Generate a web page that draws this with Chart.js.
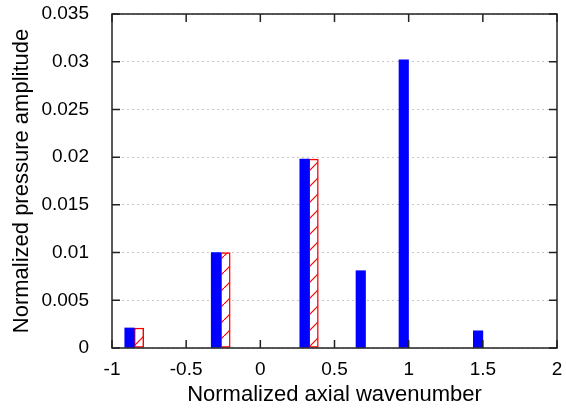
<!DOCTYPE html>
<html>
<head>
<meta charset="utf-8">
<script src="https://cdn.jsdelivr.net/npm/chart.js@4"></script>
<style>
  html, body { margin: 0; padding: 0; background: #fff; }
  #wrap { width: 566px; height: 408px; }
</style>
</head>
<body>
<div id="wrap"><canvas id="chart" width="566" height="408"></canvas></div>
<script>
// wavenumber positions and amplitudes
let blueX = [-0.882, -0.299, 0.298, 0.677, 0.967, 1.468];
let blueY = [0.0021, 0.0100, 0.0198, 0.0081, 0.0302, 0.0018];
let redX = [-0.818, -0.235, 0.359];
let redY = [0.0021, 0.0100, 0.0198];

let xTicks = [-1, -0.5, 0, 0.5, 1, 1.5, 2];
let xTickLabels = ['-1', '-0.5', '0', '0.5', '1', '1.5', '2'];
let yTicks = [0, 0.005, 0.01, 0.015, 0.02, 0.025, 0.03, 0.035];
let yTickLabels = ['0', '0.005', '0.01', '0.015', '0.02', '0.025', '0.03', '0.035'];

let fontFamily = '"Liberation Sans", Arial, sans-serif';

// red diagonal hatch
function makeHatch() {
	let c = document.createElement('canvas');
	c.width = 16;
	c.height = 16;
	let g = c.getContext('2d');
	g.fillStyle = '#ffffff';
	g.fillRect(0, 0, 16, 16);
	g.strokeStyle = '#ff0000';
	g.lineWidth = 1.2;
	g.beginPath();
	g.moveTo(-2, 18);
	g.lineTo(18, -2);
	g.stroke();
	return g.createPattern(c, 'repeat');
}

// no extra room for edge labels, the frame sets the plot box
function noEdgePadding(s) {
	s.paddingLeft = 0;
	s.paddingRight = 0;
	s.paddingTop = 0;
	s.paddingBottom = 0;
}

// frame with inward ticks on all four sides
let framePlugin = {
	id: 'frame',
	afterDatasetsDraw(chart) {
		let ctx = chart.ctx;
		let a = chart.chartArea;
		let xs = chart.scales.x;
		let ys = chart.scales.y;
		let len = 8;
		ctx.save();
		ctx.strokeStyle = '#222';
		ctx.lineWidth = 1.5;
		ctx.beginPath();
		xTicks.forEach(v => {
			let px = xs.getPixelForValue(v);
			ctx.moveTo(px, a.bottom);
			ctx.lineTo(px, a.bottom - len);
			ctx.moveTo(px, a.top);
			ctx.lineTo(px, a.top + len);
		});
		yTicks.forEach(v => {
			let py = ys.getPixelForValue(v);
			ctx.moveTo(a.left, py);
			ctx.lineTo(a.left + len, py);
			ctx.moveTo(a.right, py);
			ctx.lineTo(a.right - len, py);
		});
		ctx.stroke();
		ctx.strokeRect(a.left, a.top, a.right - a.left, a.bottom - a.top);
		ctx.restore();
	}
};

let ctx = document.getElementById('chart').getContext('2d');
let chart = new Chart(ctx, {
	type: 'bar',
	data: {
		datasets: [{
			label: 'blue',
			data: blueX.map((x, i) => ({ x: x, y: blueY[i] })),
			backgroundColor: '#0000ff',
			borderWidth: 0,
			barThickness: 9.5,
			grouped: false
		}, {
			label: 'red',
			data: redX.map((x, i) => ({ x: x, y: redY[i] })),
			backgroundColor: makeHatch(),
			borderColor: '#ff0000',
			borderWidth: 1.5,
			borderSkipped: false,
			barThickness: 9.5,
			grouped: false
		}]
	},
	options: {
		responsive: false,
		animation: false,
		layout: { padding: { top: 14, right: 9, left: 0, bottom: 0 } },
		plugins: {
			legend: { display: false },
			tooltip: { enabled: false }
		},
		scales: {
			x: {
				type: 'linear',
				min: -1,
				max: 2,
				offset: false,
				afterBuildTicks: s => { s.ticks = xTicks.map(v => ({ value: v })); },
				afterFit: s => { s.height = 60; noEdgePadding(s); },
				grid: { display: false, drawTicks: false },
				border: { display: false },
				ticks: {
					padding: 10,
					color: '#000',
					font: { family: fontFamily, size: 19 },
					maxRotation: 0,
					callback: (v, i) => xTickLabels[i]
				},
				title: {
					display: true,
					text: 'Normalized axial wavenumber',
					color: '#000',
					font: { family: fontFamily, size: 22 },
					padding: { top: 0, bottom: 0 }
				}
			},
			y: {
				min: 0,
				max: 0.035,
				afterBuildTicks: s => { s.ticks = yTicks.map(v => ({ value: v })); },
				afterFit: s => { s.width = 112; noEdgePadding(s); },
				grid: {
					color: '#c8c8c8',
					lineWidth: 1,
					drawTicks: false
				},
				border: { display: false, dash: [2, 3] },
				ticks: {
					padding: 23,
					color: '#000',
					font: { family: fontFamily, size: 19 },
					callback: (v, i) => yTickLabels[i]
				},
				title: {
					display: true,
					text: 'Normalized pressure amplitude',
					color: '#000',
					font: { family: fontFamily, size: 22 },
					padding: { top: 9, bottom: 0 }
				}
			}
		}
	},
	plugins: [framePlugin]
});
</script>
</body>
</html>
